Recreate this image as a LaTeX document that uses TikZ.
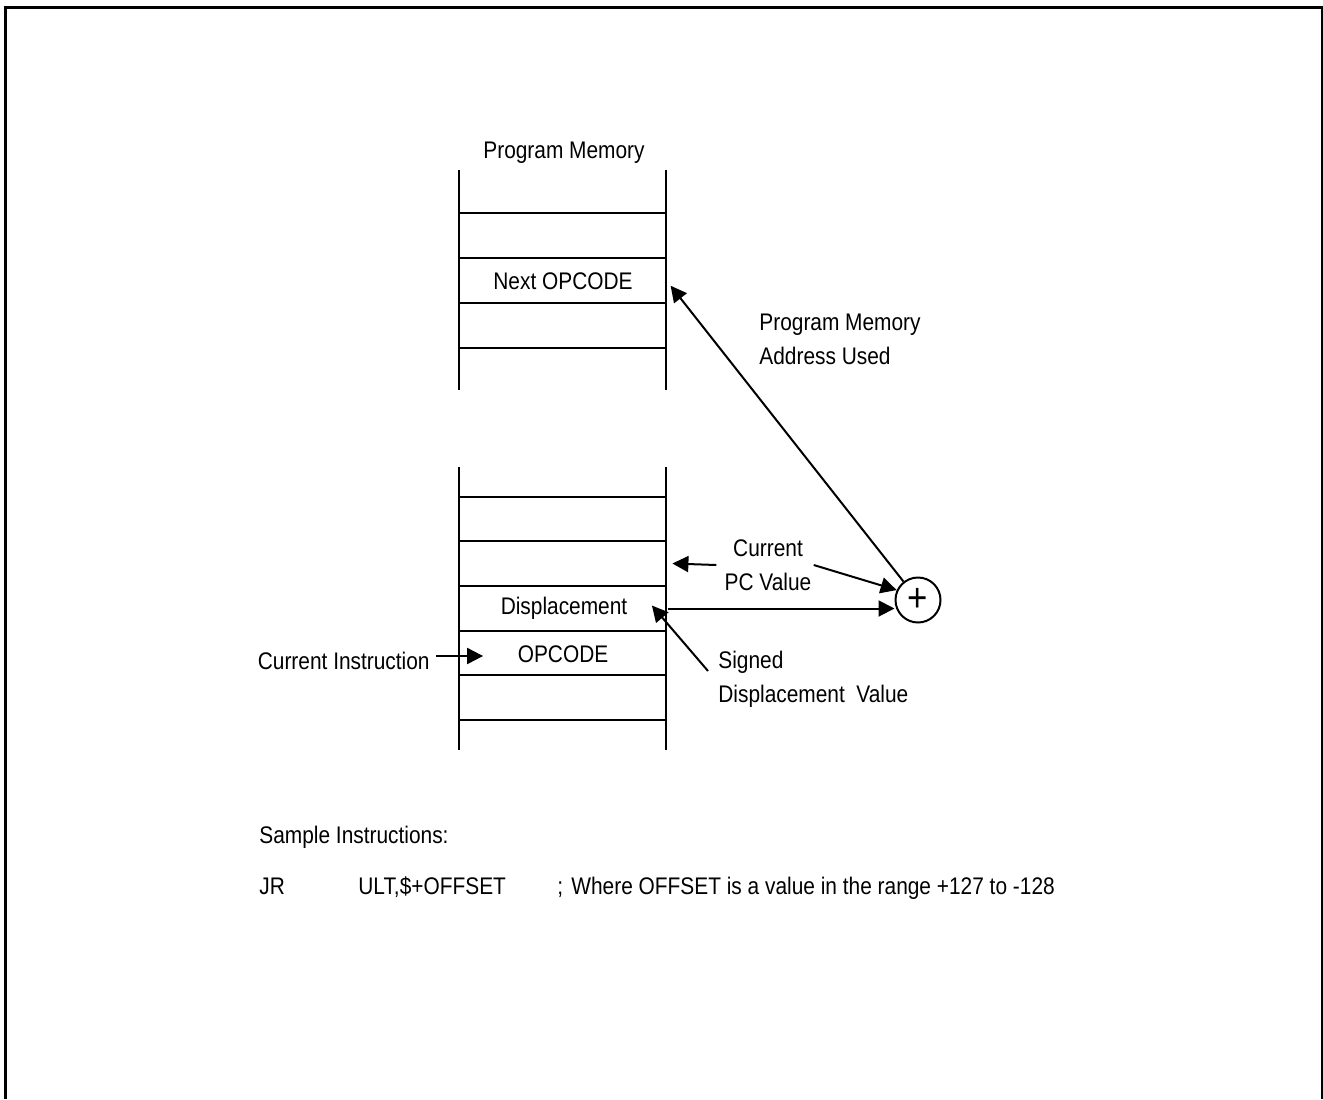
\documentclass[tikz,border=0pt]{standalone}
\usepackage{fontspec}
\setmainfont[FakeStretch=0.87]{Liberation Sans}
\usetikzlibrary{arrows.meta}

\tikzset{
  wall/.style={line width=1pt},
  arr/.style={line width=1pt,-{Triangle[length=8pt,width=8pt]}},
  lbl/.style={inner sep=1pt,font=\fontsize{12}{17}\selectfont},
  cell/.style={lbl,minimum width=103.5pt,minimum height=22.5pt}
}

\begin{document}
\begin{tikzpicture}[x=0.5pt,y=-0.5pt]
  \useasboundingbox (0,0) rectangle (1323,1099);
  % outer frame
  \draw[line width=1.5pt] (5,1099) -- (5,7) -- (1322,7) -- (1322,1099);

  % upper part of the memory
  \draw[wall] (459,170) -- (459,390) (666,170) -- (666,390);
  \foreach \y in {213,258,303,348}
    \draw[wall] (459,\y) -- (666,\y);
  \node[lbl] (pm) at (564,153) {Program Memory};
  \node[cell] (nxt) at (563,281) {Next OPCODE};

  % lower part of the memory
  \draw[wall] (459,467) -- (459,750) (666,467) -- (666,750);
  \foreach \y in {497,541,586,631,675,720}
    \draw[wall] (459,\y) -- (666,\y);
  \node[cell] (pc) at (562.5,563.5) {};
  \node[cell] (disp) at (564,608.5) {Displacement};
  \node[cell] (opc) at (563,654) {OPCODE};

  % adder
  \node[circle,draw,line width=1pt,minimum size=22.5pt,inner sep=0pt,
        font=\fontsize{20}{20}\selectfont] (plus) at (918,600) {+};

  % labels
  \node[lbl,align=left,anchor=west] (pma) at (757,339) {Program Memory\\Address Used};
  \node[lbl,align=center] (pcv) at (768,565) {Current\\PC Value};
  \node[lbl,align=left,anchor=west] (sdv) at (716,679) {Signed\\Displacement\ \ Value};
  \node[lbl,anchor=east] (cur) at (432,661) {Current Instruction};

  % connectors
  \draw[arr,shorten >=3pt] (plus) -- (nxt.east);
  \draw[arr] ([xshift=-3pt]pcv.west) -- ([xshift=3pt]pc.east);
  \draw[arr] (pcv.east) -- (plus.155);
  \draw[arr] (disp.east) -- (disp.east -| plus.west);
  \draw[arr] ([xshift=-4pt,yshift=4pt]sdv.west) -- ([xshift=-8pt,yshift=1.5pt]disp.east);
  \draw[arr,shorten >=-12pt] ([xshift=2pt,yshift=2.5pt]cur.east) -- ([yshift=2.5pt]cur.east -| opc.west);

  % sample instructions
  \node[lbl,anchor=west] (smp) at (257,837) {Sample Instructions:};
  \node[lbl,anchor=base west] (jr) at (257,894) {JR};
  \node[lbl,anchor=base west] (ult) at (356,894) {ULT,\$+OFFSET};
  \node[lbl,anchor=base west] (semi) at (555,894) {;};
  \node[lbl,anchor=base west] (cmt) at (569,894) {Where OFFSET is a value in the range +127 to -128};
\end{tikzpicture}
\end{document}
